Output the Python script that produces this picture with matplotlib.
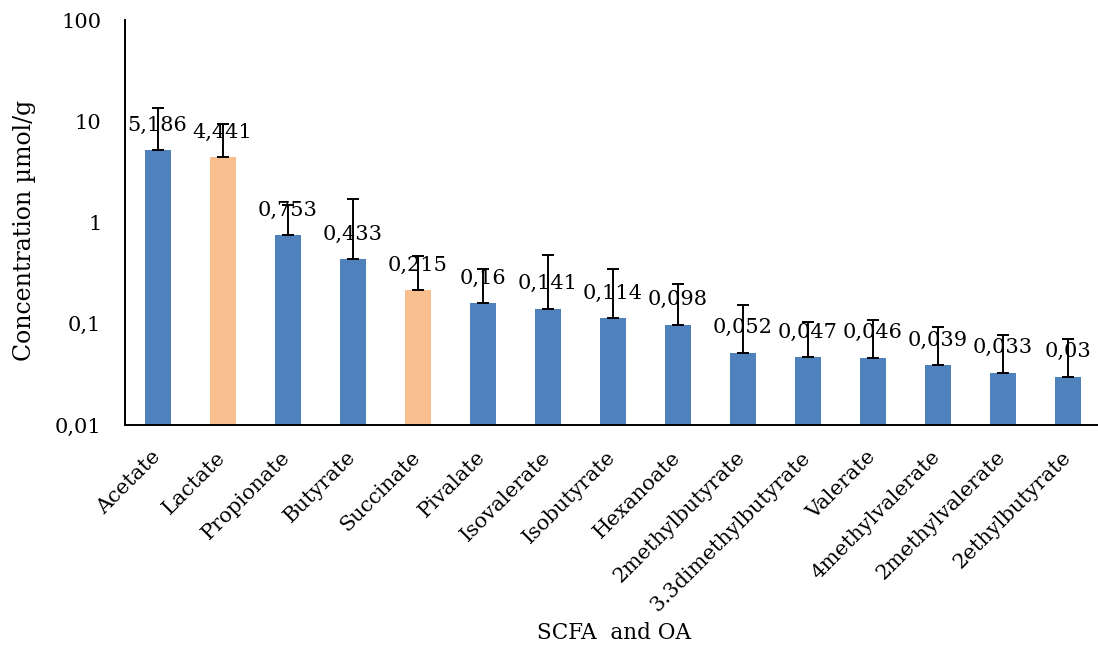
import matplotlib
matplotlib.use("Agg")
import matplotlib.pyplot as plt
from matplotlib.ticker import FixedLocator, FixedFormatter, NullLocator

# Mean concentrations (µmol/g) and upper error (SD)
compounds = ["Acetate", "Lactate", "Propionate", "Butyrate", "Succinate",
             "Pivalate", "Isovalerate", "Isobutyrate", "Hexanoate",
             "2methylbutyrate", "3.3dimethylbutyrate", "Valerate",
             "4methylvalerate", "2methylvalerate", "2ethylbutyrate"]
means = [5.186, 4.441, 0.753, 0.433, 0.215, 0.16, 0.141, 0.114, 0.098,
         0.052, 0.047, 0.046, 0.039, 0.033, 0.03]
errors_up = [8.2, 4.9, 0.75, 1.26, 0.25, 0.19, 0.34, 0.237, 0.149,
             0.102, 0.058, 0.063, 0.053, 0.044, 0.040]
# Organic acids (OA) highlighted in orange, SCFA in blue
is_oa = [False, True, False, False, True, False, False, False, False,
         False, False, False, False, False, False]

y_ticks = [0.01, 0.1, 1, 10, 100]
y_tick_labels = ["0,01", "0,1", "1", "10", "100"]

BLUE = "#4F81BD"
ORANGE = "#F9BF8F"
FONT = "DejaVu Serif"
FS = 15

plt.rcParams["font.family"] = FONT

fig = plt.figure(figsize=(10.98, 6.49), dpi=100)
W, H = 1098, 649
ax = fig.add_axes([125 / W, (H - 425) / H, 975 / W, 405 / H])

x = list(range(len(compounds)))
colors = [ORANGE if oa else BLUE for oa in is_oa]
ax.bar(x, means, width=0.4, color=colors, zorder=2)
ax.errorbar(x, means, yerr=[[0] * len(means), errors_up], fmt="none",
            ecolor="black", elinewidth=1.4, capsize=4.4, capthick=1.4,
            zorder=3)

for xi, m in zip(x, means):
    label = ("%g" % m).replace(".", ",")
    ax.annotate(label, (xi, m), xytext=(0, 18), textcoords="offset points",
                ha="center", va="center", fontsize=FS, zorder=4)

ax.set_yscale("log")
ax.set_ylim(0.01, 100)
ax.set_xlim(-0.5, len(compounds) - 0.5)
ax.yaxis.set_major_locator(FixedLocator(y_ticks))
ax.yaxis.set_major_formatter(FixedFormatter(y_tick_labels))
ax.yaxis.set_minor_locator(NullLocator())

ax.set_xticks(x)
ax.set_xticklabels(compounds, rotation=45, ha="right", va="center",
                   rotation_mode="anchor", fontsize=FS)
ax.tick_params(axis="x", length=0, pad=21)
ax.tick_params(axis="y", length=0, pad=17, labelsize=FS)

for side in ("top", "right"):
    ax.spines[side].set_visible(False)
for side in ("left", "bottom"):
    ax.spines[side].set_linewidth(1.4)
    ax.spines[side].set_color("black")

fig.text(614 / W, 1 - 633 / H, "SCFA  and OA", ha="center", va="center",
         fontsize=15.5)
fig.text(25 / W, 1 - 230 / H, "Concentration µmol/g", ha="center",
         va="center", rotation=90, fontsize=17)

fig.savefig("out.png", dpi=100)
